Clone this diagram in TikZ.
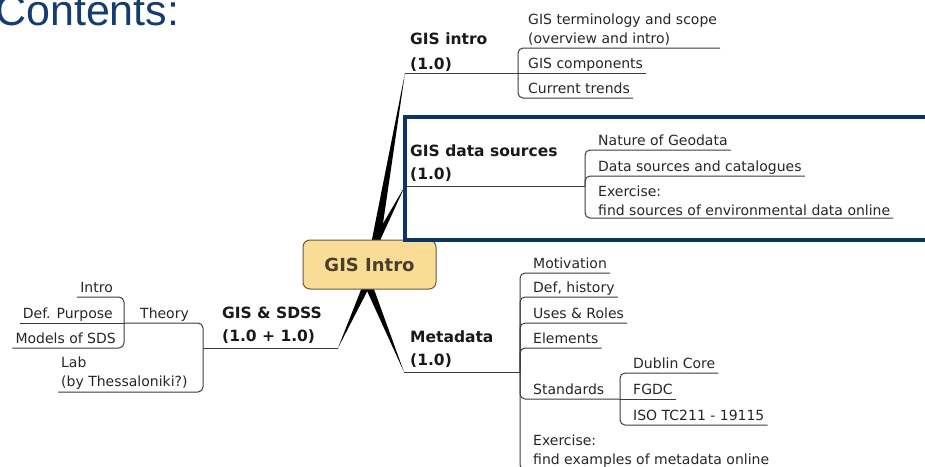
\documentclass[tikz,border=0pt]{standalone}
\usepackage{fontspec}
\setmainfont{DejaVu Sans}
\newfontfamily\titlefont{Liberation Sans}
\usetikzlibrary{calc,backgrounds}

\definecolor{titleblue}{RGB}{20,60,110}
\definecolor{framenavy}{RGB}{12,52,102}
\definecolor{hubfill}{RGB}{249,221,150}
\definecolor{hubline}{RGB}{105,90,60}
\definecolor{hubtext}{RGB}{72,62,42}
\definecolor{twiggray}{RGB}{60,60,60}

% tapered branch: x offset of its foot from the hub centre, then its tip
\newcommand{\branchwedge}[2]{%
    \fill[black] ($(hub.center)+(#1-\wedgehalf,0)$) -- (#2) -- ($(hub.center)+(#1+\wedgehalf,0)$) -- cycle;}

\begin{document}
\begin{tikzpicture}[x=1pt,y=-1pt,
    topic/.style={font=\topicfont,text=black!90,anchor=south west,align=left,inner xsep=4pt,inner ysep=4pt},
    leaf/.style={font=\leaffont,text=black!85,anchor=south west,align=left,inner xsep=3pt,inner ysep=4.5pt,text depth=0pt},
    leafpair/.style={font=\leaffont,text=black!85,anchor=south west,align=left,inner xsep=3pt,inner ysep=2pt},
    twig/.style={draw=twiggray,line width=1pt,rounded corners=5pt},
    hub/.style={draw=hubline,fill=hubfill,line width=1pt,rounded corners=7pt,minimum width=133pt,minimum height=49pt,font=\hubfont,text=hubtext}]
    \pgfmathsetmacro{\wedgehalf}{5}
    \providecommand{\leaffont}{\fontsize{14}{19.5}\selectfont}
    \providecommand{\topicfont}{\fontsize{15.5}{23}\selectfont\bfseries}
    \providecommand{\hubfont}{\fontsize{18}{20}\selectfont\bfseries}
    \useasboundingbox (0,0) rectangle (925,466);
    \clip (0,0) rectangle (925,466);

    \node[anchor=base west,inner sep=0pt,font=\titlefont\fontsize{43}{43}\selectfont,text=titleblue] (title) at (-5,25) {Contents:};

    % central topic
    \node[hub] (hub) at (369.5,264.5) {GIS Intro};

    % branch tips and junctions
    \coordinate (introtip) at (405,73);
    \coordinate (introjoin) at (518,73);
    \coordinate (srctip) at (405,186);
    \coordinate (srcjoin) at (585,186);
    \coordinate (sdsstip) at (338,348);
    \coordinate (sdssjoin) at (203,348);
    \coordinate (metatip) at (404,372);
    \coordinate (metajoin) at (520,372);

    \begin{scope}[on background layer]
    \branchwedge{2.5}{introtip}
    \branchwedge{-5.5}{srctip}
    \branchwedge{6.5}{sdsstip}
    \branchwedge{-9.5}{metatip}
    \end{scope}

    % GIS intro
    \node[topic] (intro) at (406,76) {GIS intro\\[2pt](1.0)};
    \draw[twig] (introtip) -- (introjoin);
    \node[leafpair] (terms) at (525,48) {GIS terminology and scope\\(overview and intro)};
    \node[leaf] (comps) at (525,73) {GIS components};
    \node[leaf] (trends) at (525,98) {Current trends};
    \draw[twig] (introjoin) |- (terms.south east);
    \draw[twig] (introjoin) -- (comps.south east);
    \draw[twig] (introjoin) |- (trends.south east);

    % GIS data sources
    \node[topic] (sources) at (406,186) {GIS data sources\\(1.0)};
    \draw[twig] (srctip) -- (srcjoin);
    \node[leaf] (geodata) at (595,150) {Nature of Geodata};
    \node[leaf] (catalogs) at (595,176) {Data sources and catalogues};
    \node[leafpair] (srcex) at (595,218) {Exercise:\\find sources of environmental data online};
    \draw[twig] (srcjoin) |- (geodata.south east);
    \draw[twig] (srcjoin) |- (catalogs.south east);
    \draw[twig] (srcjoin) |- (srcex.south east);
    \draw[framenavy,line width=4pt] (405,117) rectangle (940,240);

    % GIS & SDSS
    \node[topic] (sdss) at (218,348) {GIS \& SDSS\\(1.0 + 1.0)};
    \draw[twig] (sdsstip) -- (sdssjoin);
    \coordinate (theoryjoin) at (124,323);
    \node[leaf] (theory) at (137,323) {Theory};
    \draw[twig] (sdssjoin) |- (theoryjoin);
    \node[leaf,anchor=south east] (basics) at (116,297) {Intro};
    \node[leaf,anchor=south east] (purpose) at (116,323) {Def. Purpose};
    \node[leaf,anchor=south east] (models) at (119,348) {Models of SDS};
    \draw[twig] (theoryjoin) |- (basics.south west);
    \draw[twig] (theoryjoin) -- (purpose.south west);
    \draw[twig] (theoryjoin) |- (models.south west);
    \node[leafpair] (lab) at (58,392) {Lab\\(by Thessaloniki?)};
    \draw[twig] (sdssjoin) |- (lab.south west);

    % Metadata
    \node[topic] (meta) at (406,372) {Metadata\\(1.0)};
    \draw[twig] (metatip) -- (metajoin);
    \node[leaf] (motive) at (530,273) {Motivation};
    \node[leaf] (history) at (530,297) {Def, history};
    \node[leaf] (roles) at (530,323) {Uses \& Roles};
    \node[leaf] (elements) at (530,348) {Elements};
    \coordinate (stdjoin) at (620,399);
    \node[leaf] (standards) at (530,399) {Standards};
    \node[leaf] (dublin) at (630,373) {Dublin Core};
    \node[leaf] (fgdc) at (630,399) {FGDC};
    \node[leaf] (iso) at (630,425) {ISO TC211 - 19115};
    \node[leafpair] (metaex) at (530,470) {Exercise:\\find examples of metadata online};
    \foreach \n in {motive,history,roles,elements,metaex}
        \draw[twig] (metajoin) |- (\n.south east);
    \draw[twig] (metajoin) |- (stdjoin);
    \draw[twig] (stdjoin) |- (dublin.south east);
    \draw[twig] (stdjoin) -- (fgdc.south east);
    \draw[twig] (stdjoin) |- (iso.south east);
\end{tikzpicture}
\end{document}
